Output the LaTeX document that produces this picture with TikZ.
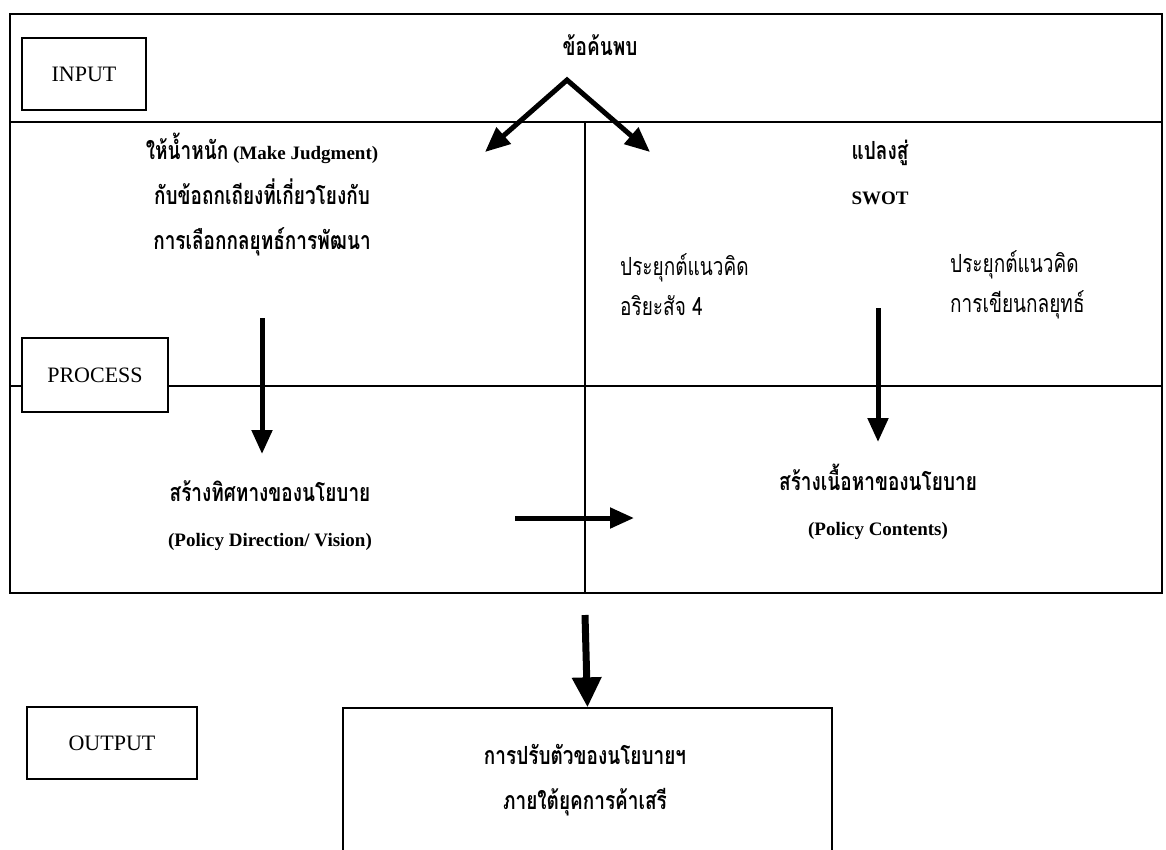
\documentclass[tikz,border=0pt]{standalone}
\usepackage{fontspec}
\setmainfont{Liberation Serif}
\newfontfamily\thai[Script=Thai,FakeStretch=0.76]{Loma}
\usetikzlibrary{arrows.meta}
\newcommand\tx[1]{{\thai\fontsize{25}{45}\selectfont #1}}
\newcommand\txs[1]{{\thai\fontsize{25}{40}\selectfont #1}}
\begin{document}
\begin{tikzpicture}[x=1pt,y=-1pt]
\tikzset{
 frameline/.style={line width=1.3pt},
 labelbox/.style={draw, line width=1.3pt, fill=white, font=\fontsize{22}{26}\selectfont, inner sep=0pt},
 txt/.style={font=\bfseries\fontsize{19}{45}\selectfont, align=center, inner sep=0pt},
 ltxt/.style={font=\fontsize{19}{40}\selectfont, align=left, inner sep=0pt, anchor=west},
 arr/.style={line width=5pt, -{Triangle[width=20pt,length=24pt]}},
 bigarr/.style={line width=7pt, -{Triangle[width=28pt,length=30pt]}},
}
\clip (0,0) rectangle (1166,849);
\fill[white] (0,0) rectangle (1166,849);
% frame
\draw[frameline] (10,14) rectangle (1162,593);
\draw[frameline] (10,122) -- (1162,122);
\draw[frameline] (10,386) -- (1162,386);
\draw[frameline] (585,122) -- (585,593);
% label boxes
\node[labelbox, minimum width=124pt, minimum height=72pt] (input) at (84,74) {INPUT};
\node[labelbox, minimum width=146pt, minimum height=74pt] (process) at (95,375) {PROCESS};
\node[labelbox, minimum width=170pt, minimum height=72pt] (output) at (112,743) {OUTPUT};
% top
\node[txt] (find) at (600,45) {\tx{ข้อค้นพบ}};
\coordinate (apex) at (567,80);
\coordinate (ltip) at (485,152);
\coordinate (rtip) at (650,152);
\draw[line width=5pt, line join=miter, {Triangle[width=21pt,length=25pt]}-{Triangle[width=21pt,length=25pt]}] (ltip) -- (apex) -- (rtip);
% left column
\node[txt] (judge) at (262,195) {\tx{ให้น้ำหนัก} (Make Judgment)\\ \tx{กับข้อถกเถียงที่เกี่ยวโยงกับ}\\ \tx{การเลือกกลยุทธ์การพัฒนา}};
\coordinate (la) at (262,318);
\coordinate (lb) at (262,454);
\draw[arr] (la) -- (lb);
\node[txt] (dir) at (270,516) {\tx{สร้างทิศทางของนโยบาย}\\ (Policy Direction/ Vision)};
% right column
\node[txt] (swot) at (880,172) {\tx{แปลงสู่}\\ SWOT};
\node[ltxt] (ari) at (620,285) {\txs{ประยุกต์แนวคิด}\\ \txs{อริยะสัจ 4}};
\node[ltxt] (strat) at (950,285) {\txs{ประยุกต์แนวคิด}\\ \txs{การเขียนกลยุทธ์}};
\coordinate (ra) at (878,308);
\coordinate (rb) at (878,442);
\draw[arr] (ra) -- (rb);
\node[txt] (cont) at (878,502) {\tx{สร้างเนื้อหาของนโยบาย}\\ (Policy Contents)};
% horizontal arrow
\coordinate (ha) at (515,518);
\coordinate (hb) at (634,518);
\draw[arr] (ha) -- (hb);
% output
\node[draw, line width=1.3pt, minimum width=489pt, minimum height=160pt, inner sep=0pt] (result) at (587.5,788) {};
\node[txt] (restext) at (585,780) {\tx{การปรับตัวของนโยบายฯ}\\ \tx{ภายใต้ยุคการค้าเสรี}};
\coordinate (ba) at (585,615);
\draw[bigarr] (ba) -- (result.north);
\end{tikzpicture}
\end{document}
